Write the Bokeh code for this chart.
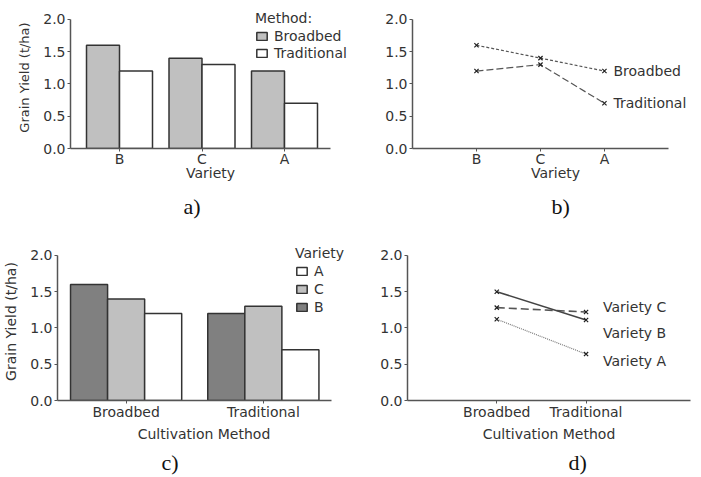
from bokeh.plotting import figure
from bokeh.layouts import column, row
from bokeh.models import (FixedTicker, PrintfTickFormatter, Legend, LegendItem,
                          Label, ColumnDataSource, Range1d, Title)
from bokeh.transform import dodge
from bokeh.embed import file_html
from bokeh.resources import INLINE

# ---------------- data ----------------
varieties = ["B", "C", "A"]
broadbed = [1.6, 1.4, 1.2]
traditional = [1.2, 1.3, 0.7]
methods = ["Broadbed", "Traditional"]
yticks = [0.0, 0.5, 1.0, 1.5, 2.0]
# panel d (fitted means)
d_var_b = [1.50, 1.11]
d_var_c = [1.28, 1.22]
d_var_a = [1.12, 0.64]
d_labels = ["Variety C", "Variety B", "Variety A"]
panel_tags = ["a)", "b)", "c)", "d)"]

FONT = "DejaVu Sans"
SERIF = "Liberation Serif"
TXT = "#333333"
AX = "#555555"
EDGE = "#333333"
FS = "14px"

xpos_v = list(range(1, len(varieties) + 1))
xpos_m = list(range(1, len(methods) + 1))


def make_fig(width, height, xr, yr, left, right, top, bottom):
    p = figure(width=width, height=height, x_range=Range1d(*xr), y_range=Range1d(*yr),
               min_border_left=left, min_border_right=right, min_border_top=top,
               min_border_bottom=bottom, output_backend="svg", toolbar_location=None, tools="")
    p.xgrid.visible = False
    p.ygrid.visible = False
    p.outline_line_color = None
    return p


def style_axes(p, ticks, labels, xbounds, xlabel, ylabel, xl_standoff, ml_standoff, ysize="13px"):
    p.xaxis.ticker = FixedTicker(ticks=ticks)
    p.xaxis.major_label_overrides = {t: l for t, l in zip(ticks, labels)}
    p.xaxis.bounds = xbounds
    p.yaxis.ticker = FixedTicker(ticks=yticks)
    p.yaxis.formatter = PrintfTickFormatter(format="%.1f")
    p.yaxis.bounds = (yticks[0], yticks[-1])
    for ax in p.axis:
        ax.axis_line_color = AX
        ax.axis_line_width = 1.5
        ax.major_tick_line_color = AX
        ax.major_tick_out = 3
        ax.major_tick_in = 0
        ax.minor_tick_out = 0
        ax.minor_tick_in = 0
        ax.major_label_text_font = FONT
        ax.major_label_text_font_size = FS
        ax.major_label_text_color = TXT
        ax.axis_label_text_font = FONT
        ax.axis_label_text_font_size = FS
        ax.axis_label_text_font_style = "normal"
        ax.axis_label_text_color = TXT
    p.yaxis.major_label_standoff = 2
    p.xaxis.major_label_standoff = ml_standoff
    p.xaxis.axis_label = xlabel
    p.xaxis.axis_label_standoff = xl_standoff
    if ylabel:
        p.yaxis.axis_label = ylabel
        p.yaxis.axis_label_text_font_size = ysize
        p.yaxis.axis_label_standoff = 8


def tag(p, text, offset, standoff):
    p.add_layout(Title(text=text, align="left", offset=offset, standoff=standoff,
                       text_font=SERIF, text_font_size="22px", text_font_style="normal",
                       text_color="#111111"), "below")


def legend(p, items, title, loc, lh):
    lg = Legend(items=items, title=title, location=loc, padding=0, margin=0,
                border_line_color=None, background_fill_alpha=0,
                glyph_width=13, glyph_height=10, label_standoff=6,
                label_height=lh, spacing=0,
                label_text_font=FONT, label_text_font_size=FS, label_text_color=TXT,
                title_text_font=FONT, title_text_font_size=FS, title_text_color=TXT,
                title_text_font_style="normal", title_standoff=1)
    p.add_layout(lg)


# ---------------- panel a ----------------
pa = make_fig(353, 228, (0.406, 3.80), (0, 2.2), 70, 3, 6, 80)
src_a = ColumnDataSource(dict(x=xpos_v, broadbed=broadbed, traditional=traditional))
ra1 = pa.vbar(x=dodge("x", -0.2), top="broadbed", width=0.4, source=src_a,
              fill_color="#c0c0c0", line_color=EDGE, line_width=1.5)
ra2 = pa.vbar(x=dodge("x", 0.2), top="traditional", width=0.4, source=src_a,
              fill_color="#ffffff", line_color=EDGE, line_width=1.5)
style_axes(pa, xpos_v, varieties, (0.406, 3.56), "Variety", "Grain Yield (t/ha)", -5, -1)
legend(pa, [LegendItem(label=methods[0], renderers=[ra1]),
            LegendItem(label=methods[1], renderers=[ra2])], "Method:", (185, 87), 17)
tag(pa, panel_tags[0], 113, 16)

# ---------------- panel b ----------------
pb = make_fig(347, 228, (0, 4.47), (0, 2.2), 59, 2, 6, 80)
for vals, dash in [(broadbed, "3 2"), (traditional, "7 3")]:
    pb.line(xpos_v, vals, line_color="#555555", line_width=1.2, line_dash=dash)
    pb.scatter(xpos_v, vals, marker="x", size=6, line_color="#222222", line_width=1.2)
for name, vals in zip(methods, [broadbed, traditional]):
    pb.add_layout(Label(x=xpos_v[-1], y=vals[-1], x_offset=9, text=name,
                        text_baseline="middle", text_font=FONT, text_font_size=FS,
                        text_color=TXT))
style_axes(pb, xpos_v, varieties, (0, 4), "Variety", None, -5, -1)
tag(pb, panel_tags[1], 139, 16)

# ---------------- panel c ----------------
pc = make_fig(353, 249, (0.5, 2.635), (0, 2.178), 57, 3, 14, 76)
fills = {"B": "#808080", "C": "#c0c0c0", "A": "#ffffff"}
rend_c = {}
for i, v in enumerate(varieties):
    vals = [broadbed[i], traditional[i]]
    src = ColumnDataSource(dict(x=xpos_m, top=vals))
    rend_c[v] = pc.vbar(x=dodge("x", (i - 1) * 0.27), top="top", width=0.27, source=src,
                        fill_color=fills[v], line_color=EDGE, line_width=1.5)
style_axes(pc, xpos_m, methods, (0.5, 2.5), "Cultivation Method", "Grain Yield (t/ha)", 3, 0,
           ysize="14px")
legend(pc, [LegendItem(label=v, renderers=[rend_c[v]]) for v in ["A", "C", "B"]],
       "Variety", (238, 84), 18)
tag(pc, panel_tags[2], 104, 6)

# ---------------- panel d ----------------
pd_ = make_fig(347, 249, (0, 3.17), (0, 2.178), 54, 10, 14, 76)
series_d = [(d_var_c, "8 4", 1.6, "#555555"), (d_var_b, "solid", 1.6, "#444444"),
            (d_var_a, "1 1", 1.2, "#777777")]
for vals, dash, lw, col in series_d:
    pd_.line(xpos_m, vals, line_color=col, line_width=lw, line_dash=dash)
    pd_.scatter(xpos_m, vals, marker="x", size=6, line_color="#222222", line_width=1.2)
label_shift = [5, -13, -7]
for (vals, _, _, _), name, dy in zip(series_d, d_labels, label_shift):
    pd_.add_layout(Label(x=xpos_m[-1], y=vals[-1], x_offset=17, y_offset=dy, text=name,
                         text_baseline="middle", text_font=FONT, text_font_size=FS,
                         text_color=TXT))
style_axes(pd_, xpos_m, methods, (0, 3.17), "Cultivation Method", None, 3, 0)
tag(pd_, panel_tags[3], 161, 6)

layout = column(row(pa, pb), row(pc, pd_))
open("out.html", "w").write(file_html(layout, INLINE))
